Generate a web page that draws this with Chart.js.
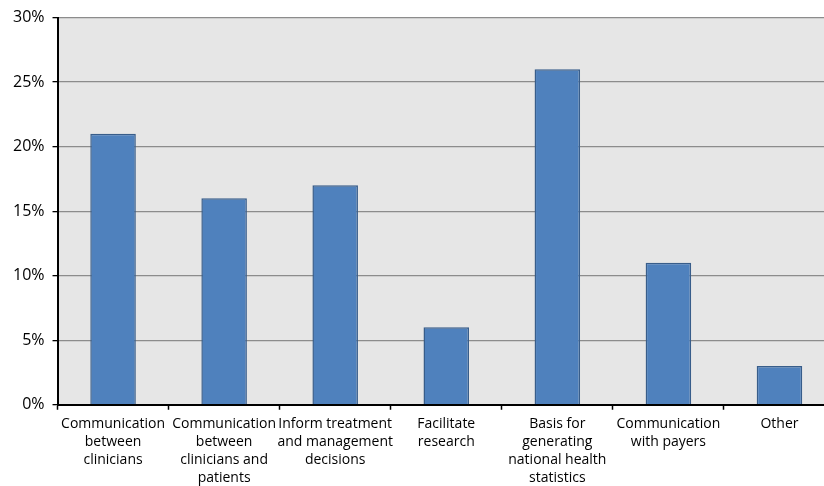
<!DOCTYPE html>
<html lang="en">
<head>
    <meta charset="UTF-8">
    <title>Chart</title>
    <style>
        body { margin: 0; overflow: hidden; background: #fff; }
        #wrap { width: 860px; height: 500px; position: relative; }
    </style>
</head>
<body>
    <div id="wrap"><canvas id="myChart"></canvas></div>

    <script src="https://cdn.jsdelivr.net/npm/chart.js"></script>
    <script>
        const categories = [
            ['Communication', 'between', 'clinicians'],
            ['Communication', 'between', 'clinicians and', 'patients'],
            ['Inform treatment', 'and management', 'decisions'],
            ['Facilitate', 'research'],
            ['Basis for', 'generating', 'national health', 'statistics'],
            ['Communication', 'with payers'],
            ['Other']
        ]
        const shares = [21, 16, 17, 6, 26, 11, 3]
        const yTicks = [0, 5, 10, 15, 20, 25, 30]

        // grey plot background like the original
        const plotBg = {
            id: 'plotBg',
            beforeDraw(chart) {
                const a = chart.chartArea
                const c = chart.ctx
                c.save()
                c.fillStyle = '#e6e6e6'
                c.fillRect(a.left, a.top, a.right - a.left, a.bottom - a.top)
                c.restore()
            }
        }

        const ctx = document.getElementById('myChart').getContext('2d')
        new Chart(ctx, {
            type: 'bar',
            data: {
                labels: categories,
                datasets: [{
                    data: shares,
                    backgroundColor: '#4f81bd',
                    borderColor: '#385d8a',
                    borderWidth: 1.5,
                    categoryPercentage: 1,
                    barPercentage: 0.41
                }]
            },
            options: {
                responsive: true,
                maintainAspectRatio: false,
                animation: false,
                layout: { padding: { top: 10, left: 5, right: 25, bottom: 8 } },
                plugins: { legend: { display: false }, tooltip: { enabled: false } },
                scales: {
                    x: {
                        grid: { offset: true, drawOnChartArea: false, tickLength: 5, tickColor: '#000', tickWidth: 1.5 },
                        border: { color: '#000', width: 2 },
                        ticks: {
                            autoSkip: false, maxRotation: 0, minRotation: 0, padding: 5,
                            color: '#000',
                            font: { family: 'Open Sans', size: 14, lineHeight: 1.29 }
                        }
                    },
                    y: {
                        min: yTicks[0],
                        max: yTicks[yTicks.length - 1],
                        afterBuildTicks(axis) { axis.ticks = yTicks.map(v => ({ value: v })) },
                        grid: { color: '#8c8c8c', lineWidth: 1.3, tickLength: 5, tickColor: '#000' },
                        border: { color: '#000', width: 2 },
                        ticks: {
                            padding: 8,
                            color: '#000',
                            font: { family: 'Open Sans', size: 16 },
                            callback: v => v + '%'
                        }
                    }
                }
            },
            plugins: [plotBg]
        })
    </script>
</body>
</html>
